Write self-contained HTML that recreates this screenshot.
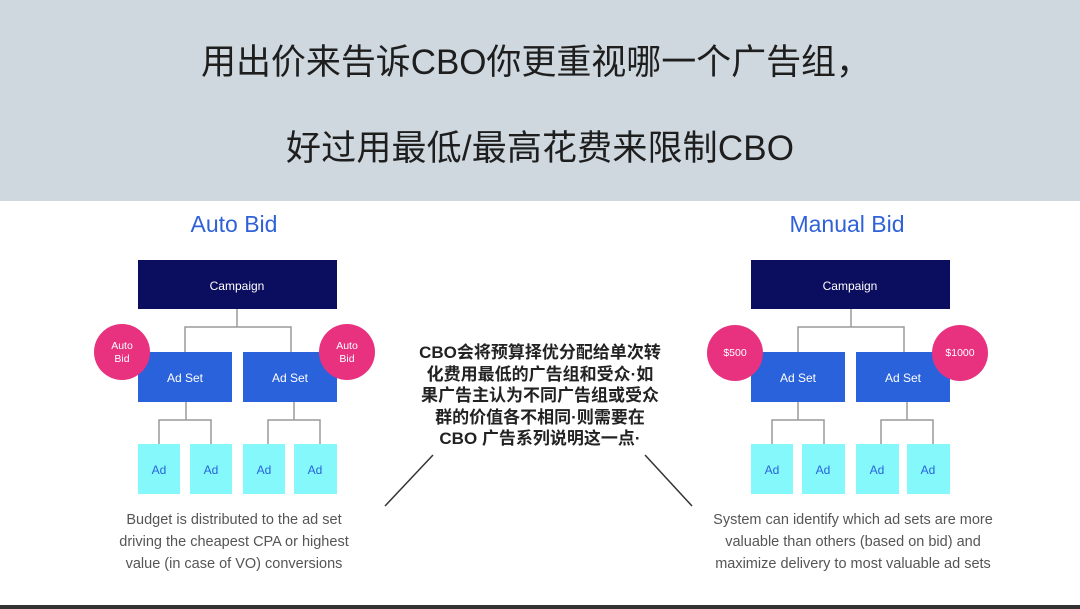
<!DOCTYPE html>
<html><head><meta charset="utf-8"><style>
html,body{margin:0;padding:0;background:#fff;}
svg{display:block;}
</style></head><body>
<svg width="1080" height="609" viewBox="0 0 1080 609" xmlns="http://www.w3.org/2000/svg" font-family="Liberation Sans, Noto Sans CJK SC, sans-serif">
<rect x="0" y="0" width="1080" height="201" fill="#cfd8df"/>
<text x="536" y="74" font-size="35" fill="#1e1e1e" text-anchor="middle" textLength="670" lengthAdjust="spacing" font-family="Liberation Sans, Noto Sans CJK SC, sans-serif">用出价来告诉CBO你更重视哪一个广告组，</text>
<text x="540" y="160" font-size="35" fill="#1e1e1e" text-anchor="middle" textLength="508" lengthAdjust="spacing" font-family="Liberation Sans, Noto Sans CJK SC, sans-serif">好过用最低/最高花费来限制CBO</text>
<rect x="0" y="605" width="1080" height="4" fill="#333"/>

<text x="234" y="232" font-size="23" fill="#2f62d8" text-anchor="middle">Auto Bid</text>
<text x="847" y="232" font-size="23" fill="#2f62d8" text-anchor="middle">Manual Bid</text>

<g stroke="#9a9a9a" stroke-width="1.5" fill="none">
<path d="M237 309V327M185 352V327H291V352"/>
<path d="M186 402V420M159 444V420H211V444"/>
<path d="M294 402V420M268 444V420H320V444"/>
<path d="M851 309V327M798 352V327H904V352"/>
<path d="M798 402V420M772 444V420H824V444"/>
<path d="M907 402V420M881 444V420H933V444"/>
</g>

<g font-size="12" fill="#fff" text-anchor="middle">
<rect x="138" y="260" width="199" height="49" fill="#0b0d5e"/>
<text x="237" y="290">Campaign</text>
<rect x="751" y="260" width="199" height="49" fill="#0b0d5e"/>
<text x="850" y="290">Campaign</text>
<rect x="138" y="352" width="94" height="50" fill="#2a62db"/><text x="185" y="382">Ad Set</text>
<rect x="243" y="352" width="94" height="50" fill="#2a62db"/><text x="290" y="382">Ad Set</text>
<rect x="751" y="352" width="94" height="50" fill="#2a62db"/><text x="798" y="382">Ad Set</text>
<rect x="856" y="352" width="94" height="50" fill="#2a62db"/><text x="903" y="382">Ad Set</text>
</g>
<g font-size="12" fill="#2a62db" text-anchor="middle">
<rect x="138" y="444" width="42" height="50" fill="#84f8fb"/><text x="159" y="474">Ad</text>
<rect x="190" y="444" width="42" height="50" fill="#84f8fb"/><text x="211" y="474">Ad</text>
<rect x="243" y="444" width="42" height="50" fill="#84f8fb"/><text x="264" y="474">Ad</text>
<rect x="294" y="444" width="43" height="50" fill="#84f8fb"/><text x="315" y="474">Ad</text>
<rect x="751" y="444" width="42" height="50" fill="#84f8fb"/><text x="772" y="474">Ad</text>
<rect x="802" y="444" width="43" height="50" fill="#84f8fb"/><text x="823" y="474">Ad</text>
<rect x="856" y="444" width="43" height="50" fill="#84f8fb"/><text x="877" y="474">Ad</text>
<rect x="907" y="444" width="43" height="50" fill="#84f8fb"/><text x="928" y="474">Ad</text>
</g>
<g fill="#e8327f">
<circle cx="122" cy="352" r="28"/><circle cx="347" cy="352" r="28"/>
<circle cx="735" cy="353" r="28"/><circle cx="960" cy="353" r="28"/>
</g>
<g font-size="10.5" fill="#fff" text-anchor="middle">
<text x="122" y="349">Auto</text><text x="122" y="362">Bid</text>
<text x="347" y="349">Auto</text><text x="347" y="362">Bid</text>
<text x="735" y="356">$500</text><text x="960" y="356">$1000</text>
</g>

<g font-size="17" font-weight="bold" fill="#222" text-anchor="middle" font-family="Liberation Sans, Noto Sans CJK SC, sans-serif">
<text x="540" y="358">CBO会将预算择优分配给单次转</text>
<text x="540" y="380">化费用最低的广告组和受众·如</text>
<text x="540" y="401">果广告主认为不同广告组或受众</text>
<text x="540" y="423">群的价值各不相同·则需要在</text>
<text x="540" y="444">CBO 广告系列说明这一点·</text>
</g>
<g stroke="#333" stroke-width="1.5">
<line x1="385" y1="506" x2="433" y2="455"/>
<line x1="645" y1="455" x2="692" y2="506"/>
</g>
<g font-size="14.5" fill="#555" text-anchor="middle">
<text x="234" y="524">Budget is distributed to the ad set</text>
<text x="234" y="546">driving the cheapest CPA or highest</text>
<text x="234" y="568">value (in case of VO) conversions</text>
<text x="853" y="524">System can identify which ad sets are more</text>
<text x="853" y="546">valuable than others (based on bid) and</text>
<text x="853" y="568">maximize delivery to most valuable ad sets</text>
</g>
</svg>
</body></html>
